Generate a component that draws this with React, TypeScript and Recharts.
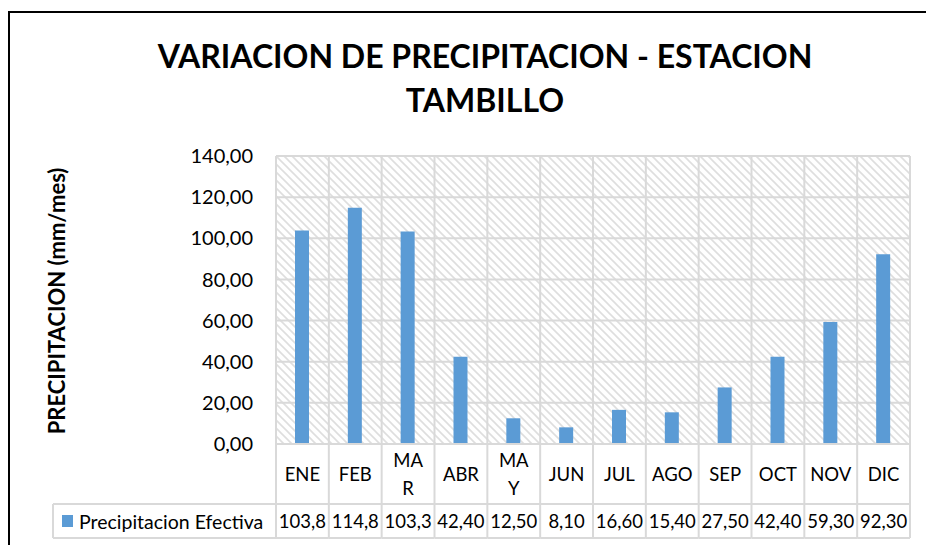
import React from 'react';
import { BarChart, Bar, XAxis, YAxis, CartesianGrid } from 'recharts';

// ---- data ----
const months = ['ENE', 'FEB', 'MAR', 'ABR', 'MAY', 'JUN', 'JUL', 'AGO', 'SEP', 'OCT', 'NOV', 'DIC'];
const monthLines = [['ENE'], ['FEB'], ['MA', 'R'], ['ABR'], ['MA', 'Y'], ['JUN'], ['JUL'], ['AGO'], ['SEP'], ['OCT'], ['NOV'], ['DIC']];
const precipitacion = [103.8, 114.8, 103.3, 42.4, 12.5, 8.1, 16.6, 15.4, 27.5, 42.4, 59.3, 92.3];
const valueLabels = ['103,8', '114,8', '103,3', '42,40', '12,50', '8,10', '16,60', '15,40', '27,50', '42,40', '59,30', '92,30'];
const yTicks = [0, 20, 40, 60, 80, 100, 120, 140];
const seriesName = 'Precipitacion Efectiva';
const titleLines = ['VARIACION DE PRECIPITACION - ESTACION', 'TAMBILLO'];
const yLabel = 'PRECIPITACION (mm/mes)';

const data = months.map((m, i) => ({ month: m, value: precipitacion[i] }));

// ---- layout ----
const W = 926;
const H = 545;
const MARGIN = { top: 156, right: 16, left: 36, bottom: 0 };
const Y_AXIS_W = 240;
const X_AXIS_H = 101;
const PLOT_LEFT = MARGIN.left + Y_AXIS_W;
const PLOT_W = W - PLOT_LEFT - MARGIN.right;
const PLOT_BOTTOM = H - X_AXIS_H;
const BAND = PLOT_W / months.length;
const ROW_Y = 504;
const TABLE_BOTTOM = 538;
const LEGEND_LEFT = 53;
const GRID = '#D9D9D9';
const BAR = '#5B9BD5';
const FONT = 'Lato, "Open Sans", sans-serif';

const TableTick = (props: any) => {
  const { x, payload } = props;
  const i = months.indexOf(payload.value);
  if (i < 0) return null;
  const left = x - BAND / 2;
  const right = x + BAND / 2;
  const lines = monthLines[i];
  const lineH = 27.5;
  const catCenter = (PLOT_BOTTOM + ROW_Y) / 2;
  const valCenter = (ROW_Y + TABLE_BOTTOM) / 2;
  return (
    <g>
      {i === 0 && (
        <g>
          <line x1={left} y1={PLOT_BOTTOM} x2={left} y2={TABLE_BOTTOM} stroke={GRID} strokeWidth={2} />
          <line x1={LEGEND_LEFT} y1={ROW_Y} x2={left} y2={ROW_Y} stroke={GRID} strokeWidth={2} />
          <line x1={LEGEND_LEFT} y1={TABLE_BOTTOM} x2={left} y2={TABLE_BOTTOM} stroke={GRID} strokeWidth={2} />
          <line x1={LEGEND_LEFT} y1={ROW_Y} x2={LEGEND_LEFT} y2={TABLE_BOTTOM} stroke={GRID} strokeWidth={2} />
          <rect x={LEGEND_LEFT + 9} y={valCenter - 6} width={11} height={12} fill={BAR} />
          <text x={LEGEND_LEFT + 26} y={valCenter} dominantBaseline="central" fontFamily={FONT} fontSize={19.5} fill="#000">
            {seriesName}
          </text>
        </g>
      )}
      <line x1={right} y1={PLOT_BOTTOM} x2={right} y2={TABLE_BOTTOM} stroke={GRID} strokeWidth={2} />
      <line x1={left} y1={ROW_Y} x2={right} y2={ROW_Y} stroke={GRID} strokeWidth={2} />
      <line x1={left} y1={TABLE_BOTTOM} x2={right} y2={TABLE_BOTTOM} stroke={GRID} strokeWidth={2} />
      {lines.map((l, k) => (
        <text
          key={k}
          x={x}
          y={catCenter + (k - (lines.length - 1) / 2) * lineH}
          textAnchor="middle"
          dominantBaseline="central"
          fontFamily={FONT}
          fontSize={18.5}
          fill="#000"
        >
          {l}
        </text>
      ))}
      <text x={x} y={valCenter} textAnchor="middle" dominantBaseline="central" fontFamily={FONT} fontSize={18.5} fill="#000">
        {valueLabels[i]}
      </text>
    </g>
  );
};

export default function App() {
  return (
    <div style={{ position: 'absolute', left: 0, top: 0, width: W, height: H, background: '#fff' }}>
      <svg width={0} height={0} style={{ position: 'absolute' }}>
        <defs>
          <pattern id="hatch" patternUnits="userSpaceOnUse" width={8} height={8}>
            <rect width={8} height={8} fill="#fff" />
            <path d="M0,0 L8,8 M-4,4 L4,12 M4,-4 L12,4" stroke="#DEDEDE" strokeWidth={1.6} />
          </pattern>
        </defs>
      </svg>
      <BarChart width={W} height={H} data={data} margin={MARGIN} barSize={14} style={{ fontFamily: FONT }}>
        <CartesianGrid
          stroke={GRID}
          strokeWidth={2}
          fill="url(#hatch)"
          fillOpacity={1}
          verticalCoordinatesGenerator={({ offset }: any) =>
            months.map((_, i) => offset.left + (i * offset.width) / months.length).concat(offset.left + offset.width)
          }
        />
        <XAxis
          dataKey="month"
          height={X_AXIS_H}
          interval={0}
          axisLine={{ stroke: GRID, strokeWidth: 2 }}
          tickLine={false}
          tick={<TableTick />}
        />
        <YAxis
          width={Y_AXIS_W}
          domain={[0, 140]}
          ticks={yTicks}
          axisLine={false}
          tickLine={false}
          tickSize={0}
          tickMargin={23}
          tick={{ fontSize: 20, fill: '#000', fontFamily: FONT }}
          tickFormatter={(v: number) => v.toFixed(2).replace('.', ',')}
        />
        <Bar dataKey="value" name={seriesName} fill={BAR} isAnimationActive={false} />
      </BarChart>
      <svg width={W} height={H} style={{ position: 'absolute', left: 0, top: 0, pointerEvents: 'none' }}>
        <line x1={8} y1={12} x2={W} y2={12} stroke="#000" strokeWidth={2} />
        <line x1={9} y1={11} x2={9} y2={H} stroke="#000" strokeWidth={2} />
        <text x={485} y={68} textAnchor="middle" fontFamily={FONT} fontWeight={700} fontSize={32} fill="#000">
          {titleLines[0]}
        </text>
        <text x={485} y={112} textAnchor="middle" fontFamily={FONT} fontWeight={700} fontSize={32} fill="#000">
          {titleLines[1]}
        </text>
        <text
          x={65}
          y={301}
          textAnchor="middle"
          transform="rotate(-90 65 301)"
          fontFamily={FONT}
          fontWeight={700}
          fontSize={22}
          fill="#000"
        >
          {yLabel}
        </text>
      </svg>
    </div>
  );
}
